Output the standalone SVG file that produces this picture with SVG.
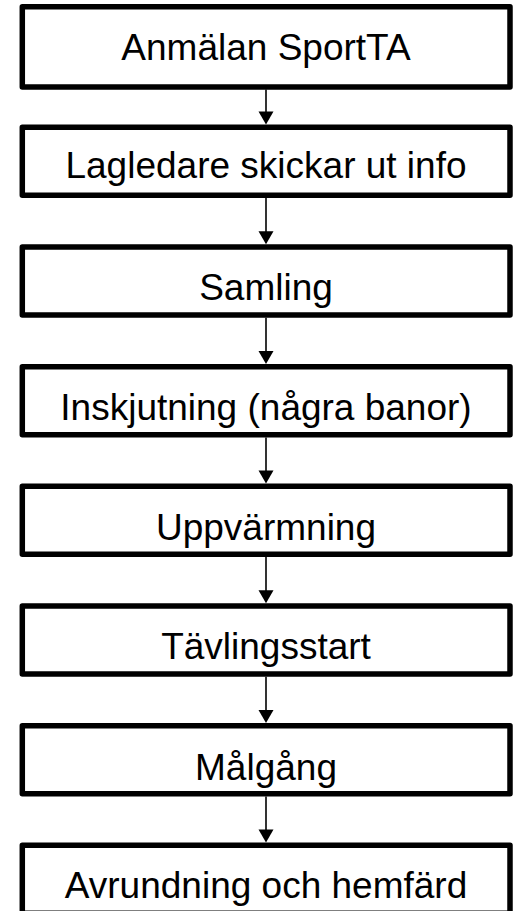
<svg xmlns="http://www.w3.org/2000/svg" width="517" height="911" viewBox="0 0 517 911">
<style>
.box{fill:#fff;stroke:#000;stroke-width:5.5;stroke-linejoin:round}
.lbl{font-family:"Liberation Sans",Arial,sans-serif;font-size:37px;fill:#000;text-anchor:middle}
.con{stroke:#000;stroke-width:1.6;fill:none}
.head{fill:#000}
</style>
<rect width="517" height="911" fill="#fff"/>
<g id="connectors">
<line class="con" x1="266" y1="89.5" x2="266" y2="112"/><polygon class="head" points="258.5,111.5 273.5,111.5 266,124.6"/>
<line class="con" x1="266" y1="198" x2="266" y2="232"/><polygon class="head" points="258.5,231.3 273.5,231.3 266,244.3"/>
<line class="con" x1="266" y1="317.7" x2="266" y2="352"/><polygon class="head" points="258.5,351 273.5,351 266,364"/>
<line class="con" x1="266" y1="437.4" x2="266" y2="471"/><polygon class="head" points="258.5,470.6 273.5,470.6 266,483.6"/>
<line class="con" x1="266" y1="557" x2="266" y2="591"/><polygon class="head" points="258.5,590.3 273.5,590.3 266,603.3"/>
<line class="con" x1="266" y1="676.7" x2="266" y2="710"/><polygon class="head" points="258.5,710 273.5,710 266,723"/>
<line class="con" x1="266" y1="796.4" x2="266" y2="830"/><polygon class="head" points="258.5,829.6 273.5,829.6 266,842.6"/>
</g>
<g id="n1"><rect class="box" x="22.3" y="6.7" width="487.7" height="80.3"/><text class="lbl" x="266" y="60">Anmälan SportTA</text></g>
<g id="n2"><rect class="box" x="22.3" y="127.3" width="487.7" height="68"/><text class="lbl" x="266" y="178">Lagledare skickar ut info</text></g>
<g id="n3"><rect class="box" x="22.3" y="247" width="487.7" height="68"/><text class="lbl" x="266" y="300">Samling</text></g>
<g id="n4"><rect class="box" x="22.3" y="366.7" width="487.7" height="68"/><text class="lbl" x="266" y="420">Inskjutning (några banor)</text></g>
<g id="n5"><rect class="box" x="22.3" y="486.3" width="487.7" height="68"/><text class="lbl" x="266" y="540">Uppvärmning</text></g>
<g id="n6"><rect class="box" x="22.3" y="606" width="487.7" height="68"/><text class="lbl" x="266" y="659">Tävlingsstart</text></g>
<g id="n7"><rect class="box" x="22.3" y="725.7" width="487.7" height="68"/><text class="lbl" x="266" y="780">Målgång</text></g>
<g id="n8"><rect class="box" x="22.3" y="845.3" width="487.7" height="68"/><text class="lbl" x="266" y="898">Avrundning och hemfärd</text></g>
</svg>
